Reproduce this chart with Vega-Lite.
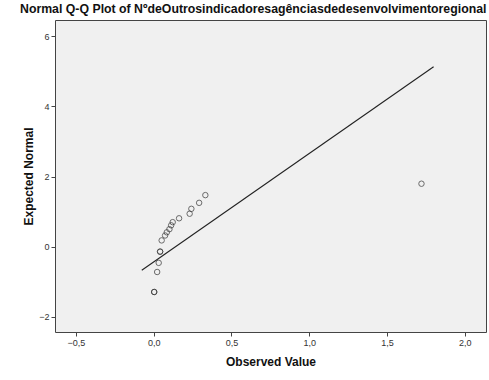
{
  "$schema": "https://vega.github.io/schema/vega-lite/v6.json",
  "autosize": "none",
  "width": 431,
  "height": 312,
  "padding": {"left": 55, "top": 20, "right": 3, "bottom": 48},
  "background": "white",
  "config": {
    "view": {"fill": "#f0f0f0", "stroke": "#444444", "strokeWidth": 1},
    "font": "Liberation Sans",
    "axis": {"grid": false, "domain": false, "tickColor": "#444444", "tickSize": 4, "labelFontSize": 9, "labelColor": "#333333", "titleFontSize": 12, "titleFontWeight": "bold", "titleColor": "#111111", "labelFont": "Liberation Sans", "titleFont": "Liberation Sans"}
  },
  "title": {"text": "Normal Q-Q Plot of NºdeOutrosindicadoresagênciasdedesenvolvimentoregional", "fontSize": 12.3, "fontWeight": "bold", "font": "Liberation Sans", "color": "#111111", "anchor": "start", "frame": "group", "dx": -35, "offset": 5},
  "datasets": {
    "pts": [
      {"obs": 0.003, "exp": -1.29},
      {"obs": 0.003, "exp": -1.29},
      {"obs": 0.022, "exp": -0.72},
      {"obs": 0.032, "exp": -0.46},
      {"obs": 0.041, "exp": -0.14},
      {"obs": 0.041, "exp": -0.14},
      {"obs": 0.051, "exp": 0.18},
      {"obs": 0.073, "exp": 0.32},
      {"obs": 0.084, "exp": 0.41},
      {"obs": 0.101, "exp": 0.50},
      {"obs": 0.112, "exp": 0.61},
      {"obs": 0.122, "exp": 0.70},
      {"obs": 0.163, "exp": 0.81},
      {"obs": 0.231, "exp": 0.94},
      {"obs": 0.242, "exp": 1.08},
      {"obs": 0.292, "exp": 1.25},
      {"obs": 0.332, "exp": 1.47},
      {"obs": 1.722, "exp": 1.795}
    ],
    "line": [
      {"obs": -0.077, "exp": -0.67},
      {"obs": 1.80, "exp": 5.13}
    ]
  },
  "layer": [
    {
      "data": {"name": "line"},
      "mark": {"type": "line", "color": "#222222", "strokeWidth": 1.1},
      "encoding": {
        "x": {"field": "obs", "type": "quantitative", "scale": {"domain": [-0.635, 2.137], "nice": false, "zero": false}, "title": "Observed Value", "axis": {"values": [-0.5, 0, 0.5, 1, 1.5, 2], "labelExpr": "replace(format(datum.value, '.1f'), '.', ',')", "titlePadding": 9}},
        "y": {"field": "exp", "type": "quantitative", "scale": {"domain": [-2.43, 6.46], "nice": false, "zero": false}, "title": "Expected Normal", "axis": {"values": [-2, 0, 2, 4, 6], "format": "d", "titlePadding": 3}}
      }
    },
    {
      "data": {"name": "pts"},
      "mark": {"type": "point", "shape": "circle", "filled": false, "color": "#333333", "size": 30, "strokeWidth": 1},
      "encoding": {
        "x": {"field": "obs", "type": "quantitative"},
        "y": {"field": "exp", "type": "quantitative"}
      }
    }
  ]
}
